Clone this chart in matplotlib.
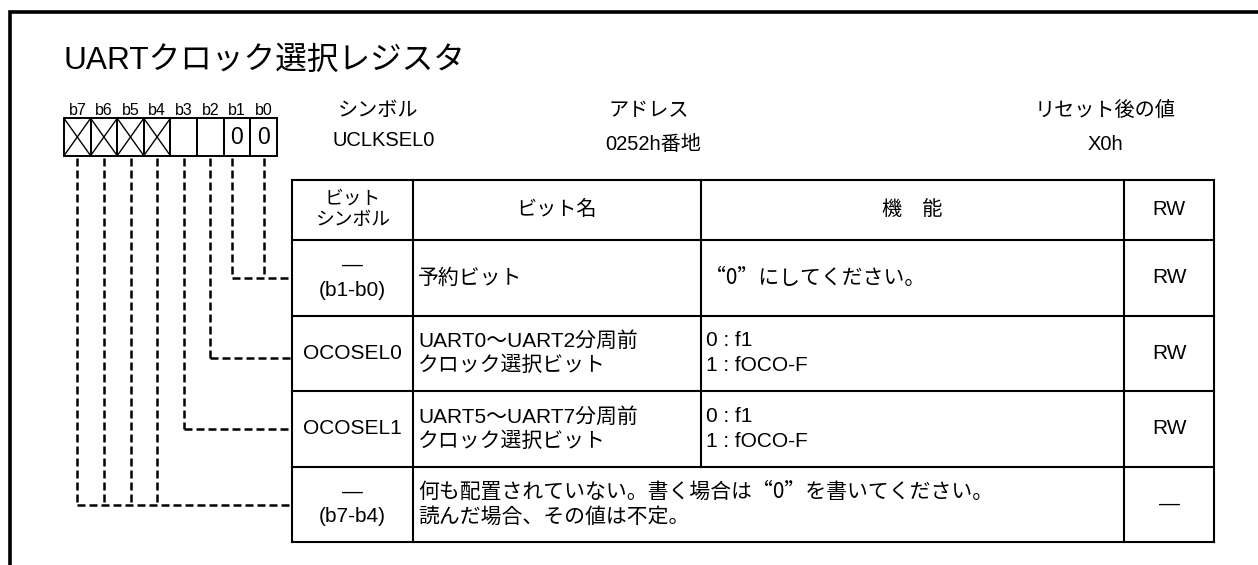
import matplotlib
matplotlib.use("Agg")
import matplotlib.pyplot as plt
from matplotlib.patches import Rectangle

plt.rcParams['font.family'] = ['Liberation Sans', 'Noto Sans CJK JP']
QUOTE_FAMILY = ['Noto Sans CJK SC', 'Noto Sans CJK JP', 'Liberation Sans']

# ---------------- data ----------------
title = "UARTクロック選択レジスタ"
bit_labels = ["b7", "b6", "b5", "b4", "b3", "b2", "b1", "b0"]
bit_cells = ["x", "x", "x", "x", "", "", "0", "0"]   # x = not implemented (crossed)

info_titles = ["シンボル", "アドレス", "リセット後の値"]
info_values = ["UCLKSEL0", "0252h番地", "X0h"]

table_headers = ["ビット\nシンボル", "ビット名", "機　能", "RW"]
bit_symbols = ["—\n(b1-b0)", "OCOSEL0", "OCOSEL1", "—\n(b7-b4)"]
bit_names = ["予約ビット",
             "UART0～UART2分周前\nクロック選択ビット",
             "UART5～UART7分周前\nクロック選択ビット",
             "何も配置されていない。書く場合は“0”を書いてください。\n読んだ場合、その値は不定。"]
functions = ["“0”にしてください。", "0 : f1\n1 : fOCO-F", "0 : f1\n1 : fOCO-F", None]
rw_values = ["RW", "RW", "RW", "—"]
row_bits = [[1, 0], [2], [3], [7, 6, 5, 4]]   # bits linked to each table row

# ---------------- layout ----------------
fig = plt.figure(figsize=(12.58, 5.65), dpi=100)
ax = fig.add_axes([0, 0, 1, 1])
ax.set_xlim(0, 1258)
ax.set_ylim(565, 0)
ax.axis('off')

def fam(s):
    return QUOTE_FAMILY if ('“' in s or '”' in s) else None

def mtext(x, yc, s, ha='left', size=15, gap=24.5):
    lines = s.split('\n')
    n = len(lines)
    for i, ln in enumerate(lines):
        y = yc + (i - (n - 1) / 2) * gap
        kw = {}
        f = fam(ln)
        if f:
            kw['family'] = f
        ax.text(x, y, ln, ha=ha, va='center', fontsize=size, color='black', **kw)

# outer frame (top and left visible)
ax.plot([10, 10, 1258], [565, 11.5, 11.5], color='black', lw=2.6, solid_joinstyle='miter')

# title
ax.text(64, 61, title, ha='left', va='center', fontsize=22.8, color='black')

# register bit boxes
bx0, bw, by0, by1 = 64.0, 26.6, 118.3, 155.7
for i, (lab, val) in enumerate(zip(bit_labels, bit_cells)):
    x0 = bx0 + i * bw
    ax.add_patch(Rectangle((x0, by0), bw, by1 - by0, fill=False, ec='black', lw=1.4))
    ax.text(x0 + bw / 2, 110.5, lab, ha='center', va='center', fontsize=11.5)
    if val == "x":
        ax.plot([x0, x0 + bw], [by0, by1], color='black', lw=1.0)
        ax.plot([x0, x0 + bw], [by1, by0], color='black', lw=1.0)
    elif val:
        ax.text(x0 + bw / 2, 137.5, val, ha='center', va='center', fontsize=16.5)

# register info
info_x = [(378, 384), (649, 653), (1105, 1105)]
info_vy = [141, 145, 145]
for (xt, xv), vy, t, v in zip(info_x, info_vy, info_titles, info_values):
    ax.text(xt, 110.5, t, ha='center', va='center', fontsize=14.5)
    ax.text(xv, vy, v, ha='center', va='center', fontsize=14.5)

# table
cx = [291.5, 413, 700.5, 1124, 1214]
ry = [179.5, 240, 315.5, 391, 467, 542]
tlw = 1.5
for y in ry:
    ax.plot([cx[0], cx[-1]], [y, y], color='black', lw=tlw)
for j, x in enumerate(cx):
    if j == 2:
        ax.plot([x, x], [ry[0], ry[4]], color='black', lw=tlw)
    else:
        ax.plot([x, x], [ry[0], ry[-1]], color='black', lw=tlw)

# header row
hy = (ry[0] + ry[1]) / 2
mtext((cx[0] + cx[1]) / 2, hy, table_headers[0], ha='center', size=13.5, gap=22)
for k in range(1, 4):
    mtext((cx[k] + cx[k + 1]) / 2, hy, table_headers[k], ha='center', size=14.5)

# body rows
for r in range(4):
    yc = (ry[r + 1] + ry[r + 2]) / 2
    mtext((cx[0] + cx[1]) / 2, yc, bit_symbols[r], ha='center', size=15)
    mtext(cx[1] + 5, yc, bit_names[r], ha='left', size=15)
    if functions[r] is not None:
        mtext(cx[2] + 5, yc, functions[r], ha='left', size=15)
    mtext((cx[3] + cx[4]) / 2, yc, rw_values[r], ha='center', size=15)

# dashed connectors from bits to rows
bit_x = {b: bx0 + (7 - b) * bw + bw / 2 for b in range(8)}
bit_x[1] = 232
conn_y = [277.5, 357.5, 428.5, 504.5]
dash = (0, (3.2, 1.6))
for r, bits in enumerate(row_bits):
    yy = conn_y[r]
    for b in bits:
        ax.plot([bit_x[b], bit_x[b]], [by1 + 2, yy], color='black', lw=1.8, linestyle=dash)
    xmin = min(bit_x[b] for b in bits)
    ax.plot([xmin, cx[0]], [yy, yy], color='black', lw=1.8, linestyle=dash)

fig.savefig("out.png", dpi=100, facecolor='white')
